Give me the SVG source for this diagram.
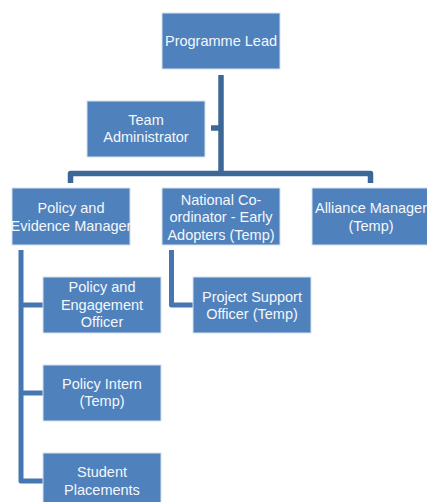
<svg xmlns="http://www.w3.org/2000/svg" width="427" height="502" viewBox="0 0 427 502">
  <style>
    .box { fill: #4F81BD; stroke: #D6E1F0; stroke-width: 1; }
    .lbl { font-family: "Liberation Sans", Arial, sans-serif; font-size: 14.5px; fill: #F4F7FB; text-anchor: middle; }
    .trunk { fill: none; stroke: #3D6797; stroke-width: 5.5; stroke-linejoin: round; }
    .branch { fill: none; stroke: #4676B1; stroke-width: 5; stroke-linejoin: round; }
  </style>

  <!-- connectors -->
  <g id="connectors">
    <path class="trunk" d="M221 75 V173.5"/>
    <path class="trunk" d="M70.5 183 V173.5 H370.5 V183"/>
    <path class="trunk" d="M211 128 H221"/>
    <path class="branch" d="M21 250 V481 H43"/>
    <path class="branch" d="M21 305 H43"/>
    <path class="branch" d="M21 393 H43"/>
    <path class="branch" d="M171.5 250 V305 H193"/>
  </g>

  <g id="programme-lead">
    <rect class="box" x="162" y="13" width="118" height="56"/>
    <text class="lbl" x="221" y="46">Programme Lead</text>
  </g>

  <g id="team-administrator">
    <rect class="box" x="87" y="101" width="118" height="56"/>
    <text class="lbl" x="146" y="125">Team</text>
    <text class="lbl" x="146" y="142">Administrator</text>
  </g>

  <g id="policy-evidence-manager">
    <rect class="box" x="12" y="188" width="118" height="57"/>
    <text class="lbl" x="71" y="213">Policy and</text>
    <text class="lbl" x="71" y="230.5">Evidence Manager</text>
  </g>

  <g id="national-coordinator">
    <rect class="box" x="162" y="188" width="118" height="57"/>
    <text class="lbl" x="221" y="204.5">National Co-</text>
    <text class="lbl" x="221" y="222">ordinator - Early</text>
    <text class="lbl" x="221" y="239.5">Adopters (Temp)</text>
  </g>

  <g id="alliance-manager">
    <rect class="box" x="312" y="188" width="118" height="57"/>
    <text class="lbl" x="371" y="213">Alliance Manager</text>
    <text class="lbl" x="371" y="230.5">(Temp)</text>
  </g>

  <g id="policy-engagement-officer">
    <rect class="box" x="43" y="277" width="118" height="56"/>
    <text class="lbl" x="102" y="292">Policy and</text>
    <text class="lbl" x="102" y="309.5">Engagement</text>
    <text class="lbl" x="102" y="327">Officer</text>
  </g>

  <g id="project-support-officer">
    <rect class="box" x="193" y="277" width="118" height="56"/>
    <text class="lbl" x="252" y="301.5">Project Support</text>
    <text class="lbl" x="252" y="319">Officer (Temp)</text>
  </g>

  <g id="policy-intern">
    <rect class="box" x="43" y="365" width="118" height="56"/>
    <text class="lbl" x="102" y="388.5">Policy Intern</text>
    <text class="lbl" x="102" y="406">(Temp)</text>
  </g>

  <g id="student-placements">
    <rect class="box" x="43" y="453" width="118" height="56"/>
    <text class="lbl" x="102" y="476.5">Student</text>
    <text class="lbl" x="102" y="494.5">Placements</text>
  </g>
</svg>
